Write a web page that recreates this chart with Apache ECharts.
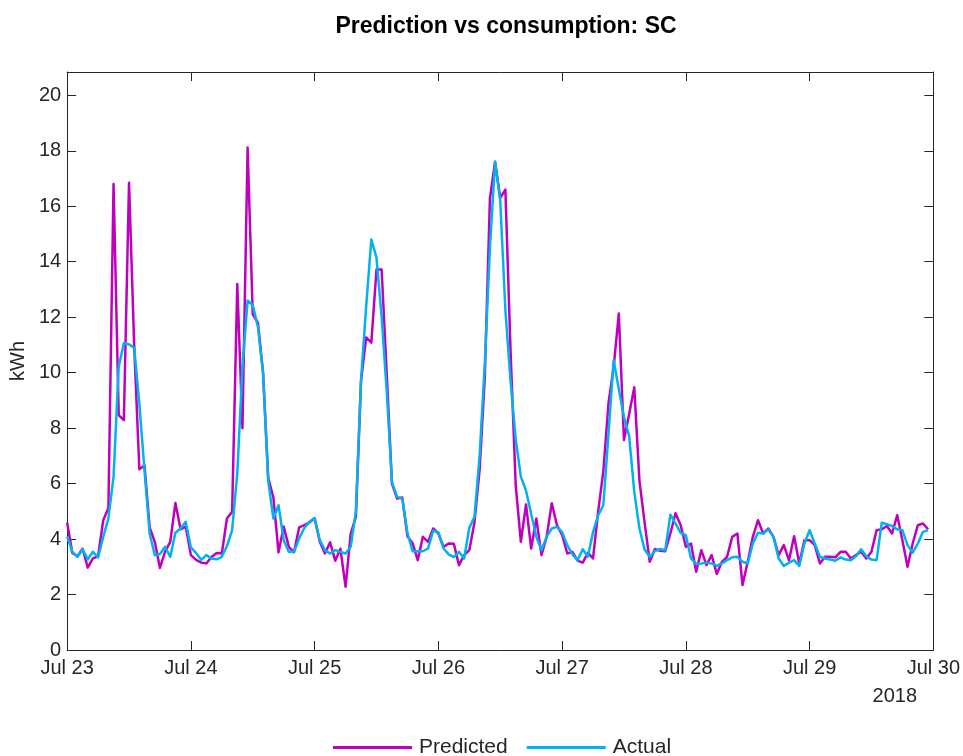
<!DOCTYPE html>
<html>
<head>
<meta charset="utf-8">
<script src="https://cdn.jsdelivr.net/npm/echarts@6/dist/echarts.min.js"></script>
<style>
  html, body { margin: 0; padding: 0; background: #ffffff; }
  #chart { width: 963px; height: 756px; }
</style>
</head>
<body>
<div id="chart"></div>
<script>
// Day tick labels (x axis, one per 24 hours)
const dayLabels = ['Jul 23', 'Jul 24', 'Jul 25', 'Jul 26', 'Jul 27', 'Jul 28', 'Jul 29', 'Jul 30'];
const yearLabel = '2018';
const seriesNames = ['Predicted', 'Actual'];

// Hourly predicted consumption (kWh), Jul 23 00:00 .. Jul 29 23:00
const predicted = [
  // Jul 23
  4.6, 3.5, 3.38, 3.65, 2.97, 3.3, 3.38, 4.68, 5.12, 16.8, 8.47, 8.29,
  16.85, 11.0, 6.52, 6.65, 4.42, 3.9, 2.96, 3.55, 3.9, 5.3, 4.35, 4.45,
  // Jul 24
  3.42, 3.25, 3.15, 3.12, 3.35, 3.5, 3.48, 4.75, 4.98, 13.2, 8.0, 18.12,
  12.1, 11.8, 10.0, 6.2, 5.5, 3.52, 4.45, 3.72, 3.52, 4.42, 4.5, 4.6,
  // Jul 25
  4.75, 3.9, 3.48, 3.88, 3.22, 3.65, 2.28, 4.2, 4.8, 9.7, 11.27, 11.08,
  13.72, 13.72, 9.9, 6.0, 5.46, 5.5, 4.1, 3.85, 3.24, 4.08, 3.9, 4.38,
  // Jul 26
  4.2, 3.72, 3.84, 3.83, 3.06, 3.42, 3.6, 4.6, 6.5, 9.8, 16.28, 17.6,
  16.3, 16.6, 10.8, 5.95, 3.9, 5.25, 3.66, 4.74, 3.42, 4.08, 5.29, 4.5,
  // Jul 27
  4.15, 3.48, 3.54, 3.22, 3.15, 3.5, 3.3, 5.0, 6.45, 8.9, 10.2, 12.13,
  7.57, 8.5, 9.47, 6.1, 4.6, 3.18, 3.64, 3.58, 3.56, 4.2, 4.93, 4.5,
  // Jul 28
  3.72, 3.84, 2.82, 3.6, 3.06, 3.42, 2.74, 3.18, 3.36, 4.08, 4.2, 2.34,
  3.18, 4.08, 4.68, 4.2, 4.38, 4.08, 3.42, 3.78, 3.24, 4.1, 3.12, 3.96,
  // Jul 29
  3.96, 3.78, 3.12, 3.36, 3.36, 3.34, 3.54, 3.54, 3.3, 3.42, 3.54, 3.3,
  3.54, 4.32, 4.35, 4.47, 4.2, 4.86, 3.96, 3.0, 3.84, 4.5, 4.56, 4.35
];

// Hourly actual consumption (kWh), Jul 23 00:00 .. Jul 29 23:00
const actual = [
  // Jul 23
  4.1, 3.54, 3.36, 3.63, 3.27, 3.54, 3.34, 4.08, 4.74, 6.25, 10.2, 11.07,
  11.02, 10.9, 8.89, 6.49, 4.2, 3.42, 3.46, 3.72, 3.36, 4.23, 4.38, 4.62,
  // Jul 24
  3.7, 3.5, 3.25, 3.42, 3.3, 3.27, 3.36, 3.75, 4.32, 6.37, 10.2, 12.6,
  12.43, 11.65, 9.97, 6.1, 4.74, 5.22, 3.96, 3.54, 3.54, 4.02, 4.4, 4.62,
  // Jul 25
  4.76, 3.96, 3.6, 3.48, 3.6, 3.54, 3.48, 3.72, 5.0, 9.73, 12.4, 14.8,
  14.15, 12.0, 9.3, 6.05, 5.52, 5.46, 4.22, 3.56, 3.56, 3.56, 3.66, 4.3,
  // Jul 26
  4.24, 3.66, 3.45, 3.35, 3.54, 3.3, 4.41, 4.8, 7.0, 10.3, 14.5, 17.6,
  16.2, 12.25, 9.7, 7.6, 6.25, 5.75, 4.9, 4.08, 3.6, 4.08, 4.38, 4.44,
  // Jul 27
  4.25, 3.78, 3.45, 3.24, 3.63, 3.36, 4.25, 4.86, 5.22, 7.8, 10.45, 9.4,
  8.4, 7.72, 5.7, 4.38, 3.62, 3.36, 3.57, 3.64, 3.6, 4.88, 4.56, 4.22,
  // Jul 28
  4.14, 3.3, 3.1, 3.12, 3.15, 3.12, 3.03, 3.12, 3.24, 3.34, 3.36, 3.18,
  3.12, 3.84, 4.23, 4.2, 4.35, 4.08, 3.3, 3.03, 3.15, 3.24, 3.03, 3.84,
  // Jul 29
  4.32, 3.84, 3.36, 3.3, 3.26, 3.22, 3.34, 3.26, 3.24, 3.38, 3.63, 3.38,
  3.26, 3.24, 4.59, 4.54, 4.47, 4.35, 4.32, 3.78, 3.51, 3.84, 4.26, 4.32
];

const FONT = '"Liberation Sans", Arial, Helvetica, sans-serif';
const TXT = '#262626';
const AX = '#262626';

const chart = echarts.init(document.getElementById('chart'), null, { renderer: 'canvas' });

const hoursPerDay = 24;
const xMax = (dayLabels.length - 1) * hoursPerDay;

const baseX = {
  type: 'value', min: 0, max: xMax, interval: hoursPerDay,
  axisLine: { show: true, onZero: false, lineStyle: { color: AX, width: 1 } },
  axisTick: { show: true, inside: true, length: 9, lineStyle: { color: AX, width: 1 } },
  splitLine: { show: false }
};
const baseY = {
  type: 'value', min: 0, max: 20.84, interval: 2,
  axisLine: { show: true, onZero: false, lineStyle: { color: AX, width: 1 } },
  axisTick: { show: true, inside: true, length: 9, lineStyle: { color: AX, width: 1 } },
  splitLine: { show: false }
};

chart.setOption({
  animation: false,
  backgroundColor: '#ffffff',
  title: {
    text: 'Prediction vs consumption: SC',
    left: 501, top: 10, textAlign: 'center',
    textStyle: { fontFamily: FONT, fontSize: 23, fontWeight: 'bold', color: '#000000' }
  },
  grid: { left: 67, right: 27, top: 72, bottom: 106, containLabel: false },
  legend: {
    left: 333, top: 737, padding: 0,
    itemWidth: 79, itemHeight: 3, itemGap: 19,
    icon: 'rect',
    textStyle: { fontFamily: FONT, fontSize: 21, color: TXT, padding: [0, 0, 0, 2] },
    data: seriesNames
  },
  xAxis: [
    Object.assign({}, baseX, {
      position: 'bottom',
      axisLabel: {
        show: true, margin: 8, fontFamily: FONT, fontSize: 20, color: TXT,
        showMinLabel: true, showMaxLabel: true,
        formatter: v => dayLabels[Math.round(v / hoursPerDay)] || ''
      }
    }),
    Object.assign({}, baseX, { position: 'top', axisLabel: { show: false } })
  ],
  yAxis: [
    Object.assign({}, baseY, {
      position: 'left',
      name: 'kWh', nameLocation: 'middle', nameGap: 34, nameRotate: 90,
      nameTextStyle: { fontFamily: FONT, fontSize: 20, color: TXT },
      axisLabel: {
        show: true, margin: 6, fontFamily: FONT, fontSize: 20, color: TXT,
        showMaxLabel: false,
        formatter: v => (Math.abs(v % 2) < 1e-9 ? String(v) : '')
      }
    }),
    Object.assign({}, baseY, { position: 'right', axisLabel: { show: false } })
  ],
  graphic: [{
    type: 'text', x: 917, y: 686,
    style: { text: yearLabel, fontFamily: FONT, fontSize: 20, fill: TXT, textAlign: 'right', textVerticalAlign: 'top' }
  }],
  series: [
    {
      name: seriesNames[0], type: 'line', xAxisIndex: 0, yAxisIndex: 0,
      showSymbol: false, symbol: 'none',
      data: predicted.map((v, i) => [i, v]),
      itemStyle: { color: '#BF00BF' },
      lineStyle: { color: '#BF00BF', width: 2.5, join: 'round' },
      z: 2
    },
    {
      name: seriesNames[1], type: 'line', xAxisIndex: 0, yAxisIndex: 0,
      showSymbol: false, symbol: 'none',
      data: actual.map((v, i) => [i, v]),
      itemStyle: { color: '#00B2EE' },
      lineStyle: { color: '#00B2EE', width: 2.5, join: 'round' },
      z: 3
    }
  ]
});
</script>
</body>
</html>
